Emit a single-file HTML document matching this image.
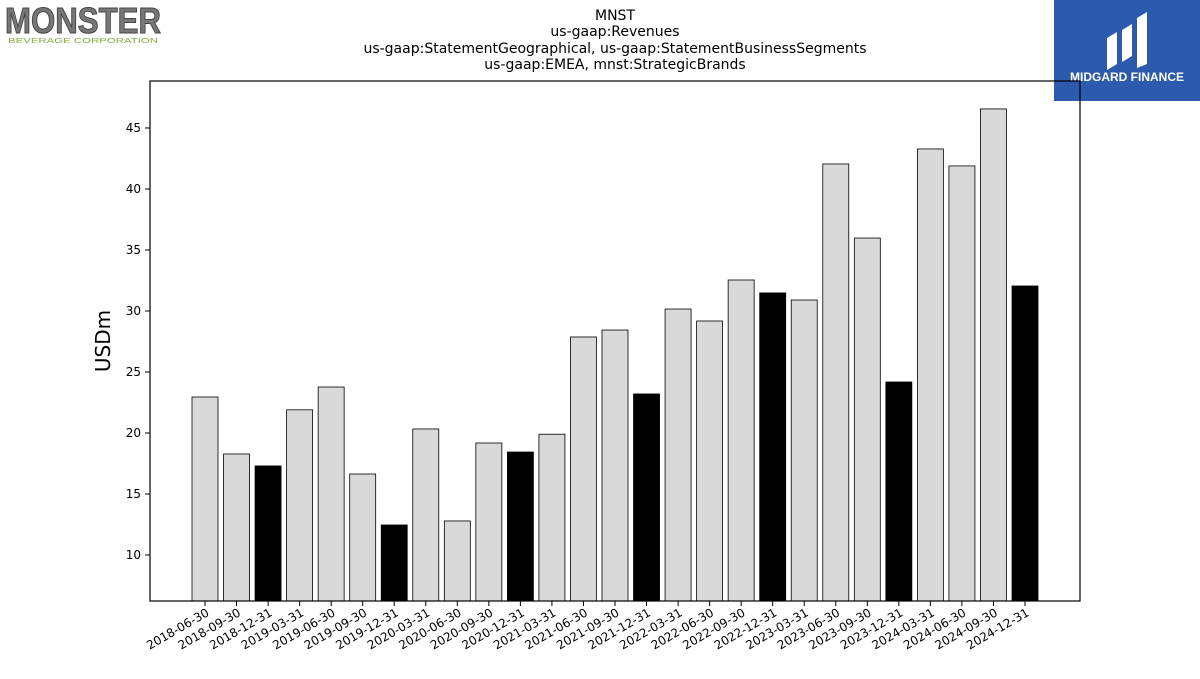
<!DOCTYPE html>
<html><head><meta charset="utf-8"><style>
body{margin:0;background:#fff;font-family:"DejaVu Sans","Liberation Sans",sans-serif;}
</style></head><body>
<svg width="1200" height="675" viewBox="0 0 1200 675" xmlns="http://www.w3.org/2000/svg">
<g>
<text x="5" y="33" font-family="Liberation Sans" font-weight="bold" font-size="36" fill="#777" stroke="#444" stroke-width="1" textLength="156" lengthAdjust="spacingAndGlyphs">MONSTER</text>
<text x="8" y="43" font-family="Liberation Sans" font-size="7" fill="#8a4" textLength="150" lengthAdjust="spacingAndGlyphs">BEVERAGE CORPORATION</text>
</g>
<g>
<rect x="1054" y="0" width="146" height="101" fill="#2c5aad"/>
<path d="M1107 70 V38 L1117 32 V64 Z M1122 62 V30 L1132 24 V56 Z M1137 68 V18 L1147 12 V64 Z" fill="#fff"/>
<text x="1127" y="81" text-anchor="middle" font-family="Liberation Sans" font-weight="bold" font-size="12" fill="#fff">MIDGARD FINANCE</text>
</g>
<g font-size="14" text-anchor="middle" fill="#000">
<text x="615" y="20">MNST</text>
<text x="615" y="36">us-gaap:Revenues</text>
<text x="615" y="53">us-gaap:StatementGeographical, us-gaap:StatementBusinessSegments</text>
<text x="615" y="69">us-gaap:EMEA, mnst:StrategicBrands</text>
</g>
<g id="bars"></g>
<rect x="150" y="81" width="930" height="520" fill="none" stroke="#000" stroke-width="1.2"/>
<g id="yaxis"></g>
<g id="xaxis"></g>
<text x="0" y="0" transform="translate(110,341) rotate(-90)" text-anchor="middle" font-size="20">USDm</text>
</svg>
<script>
const categories=["2018-06-30","2018-09-30","2018-12-31","2019-03-31","2019-06-30","2019-09-30","2019-12-31","2020-03-31","2020-06-30","2020-09-30","2020-12-31","2021-03-31","2021-06-30","2021-09-30","2021-12-31","2022-03-31","2022-06-30","2022-09-30","2022-12-31","2023-03-31","2023-06-30","2023-09-30","2023-12-31","2024-03-31","2024-06-30","2024-09-30","2024-12-31"];
const values=[22.95,18.28,17.3,21.9,23.77,16.64,12.46,20.33,12.79,19.18,18.44,19.9,27.87,28.44,23.2,30.16,29.18,32.54,31.48,30.9,42.05,35.98,24.18,43.28,41.89,46.56,32.05];
const yTicks=[10,15,20,25,30,35,40,45];
const NS="http://www.w3.org/2000/svg";
const yMin=6.23,yMax=48.85,plotTop=81,plotBot=601;
const yS=v=>plotBot-(v-yMin)/(yMax-yMin)*(plotBot-plotTop);
const step=(1025-205)/(categories.length-1);
const xS=i=>205+i*step;
const bw=26;
const barsG=document.getElementById('bars'),ya=document.getElementById('yaxis'),xa=document.getElementById('xaxis');
values.forEach((v,i)=>{
 const r=document.createElementNS(NS,'rect');
 
 
 r.setAttribute('x',xS(i)-bw/2);r.setAttribute('y',yS(v));
 r.setAttribute('width',bw);r.setAttribute('height',plotBot-yS(v));
 r.setAttribute('fill',categories[i].endsWith('12-31')?'#000':'#d9d9d9');
 r.setAttribute('stroke','#000');r.setAttribute('stroke-width','0.8');
 barsG.appendChild(r);
 const t=document.createElementNS(NS,'line');
 
 
 t.setAttribute('x1',xS(i));t.setAttribute('x2',xS(i));t.setAttribute('y1',plotBot);t.setAttribute('y2',plotBot+5);t.setAttribute('stroke','#000');
 xa.appendChild(t);
 const l=document.createElementNS(NS,'text');
 
 
 l.setAttribute('font-size','12');l.setAttribute('text-anchor','end');
 l.setAttribute('transform','translate('+(xS(i)+5)+','+(plotBot+14)+') rotate(-30)');
 l.textContent=categories[i];xa.appendChild(l);
});
yTicks.forEach(v=>{
 const t=document.createElementNS(NS,'line');
 
 
 t.setAttribute('x1',145);t.setAttribute('x2',150);t.setAttribute('y1',yS(v));t.setAttribute('y2',yS(v));t.setAttribute('stroke','#000');
 ya.appendChild(t);
 const l=document.createElementNS(NS,'text');
 
 
 l.setAttribute('font-size','12');l.setAttribute('text-anchor','end');
 l.setAttribute('x',141);l.setAttribute('y',yS(v)+4);
 l.textContent=v;ya.appendChild(l);
});
</script>
</body></html>
